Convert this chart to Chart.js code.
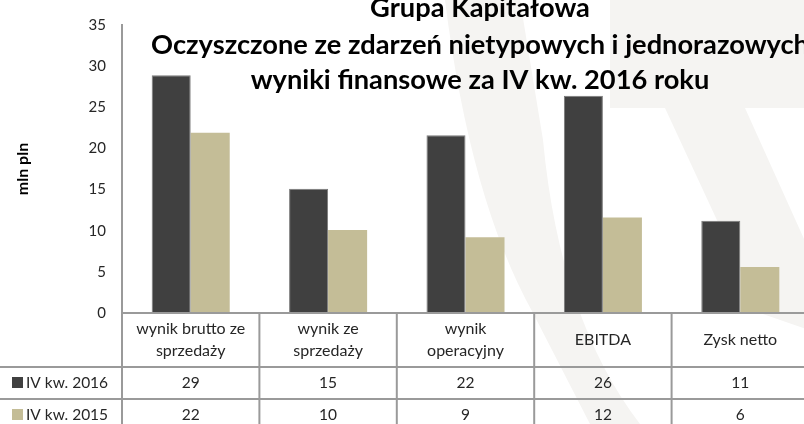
<!DOCTYPE html>
<html><head><meta charset="utf-8">
<script src="https://cdn.jsdelivr.net/npm/chart.js@4/dist/chart.umd.min.js"></script>
<style>
html,body{margin:0;padding:0;overflow:hidden;background:#fff;width:804px;height:424px}
#wrap{position:relative;width:809px;height:424px}
</style></head>
<body><div id="wrap"><canvas id="c"></canvas></div>
<script>
// ---- data ----
const titleLines = ['Grupa Kapitałowa', 'Oczyszczone ze zdarzeń nietypowych i jednorazowych', 'wyniki finansowe za IV kw. 2016 roku'];
const categories = [['wynik brutto ze', 'sprzedaży'], ['wynik ze', 'sprzedaży'], ['wynik', 'operacyjny'], ['EBITDA'], ['Zysk netto']];
const seriesNames = ['IV kw. 2016', 'IV kw. 2015'];
const values2016 = [28.9, 15.1, 21.6, 26.4, 11.2];
const values2015 = [21.9, 10.1, 9.2, 11.6, 5.6];
const table2016 = ['29', '15', '22', '26', '11'];
const table2015 = ['22', '10', '9', '12', '6'];
const yTicks = [0, 5, 10, 15, 20, 25, 30, 35];
const yTitle = 'mln pln';

// ---- styles ----
const FONT = 'Lato';
const TEXT = '#262626';
const LINE = '#9a9a9a';
const DARK = '#404040';
const TAN = '#c4bd97';
const WM = '#f5f4f2';

const tablePlugin = {
  id: 'tableAndTitle',
  beforeDraw(chart) {
    const ctx = chart.ctx;
    ctx.save();
    ctx.fillStyle = WM;
    // faint watermark shapes
    ctx.beginPath();
    ctx.moveTo(445, 0);
    ctx.quadraticCurveTo(470, 200, 533, 313);
    ctx.lineTo(590, 424);
    ctx.lineTo(640, 424);
    ctx.quadraticCurveTo(560, 320, 543, 140);
    ctx.lineTo(520, 0);
    ctx.closePath();
    ctx.fill();
    ctx.fillRect(610, 0, 200, 108);
    ctx.beginPath();
    ctx.moveTo(665, 108);
    ctx.lineTo(745, 108);
    ctx.lineTo(809, 250);
    ctx.lineTo(809, 330);
    ctx.lineTo(760, 313);
    ctx.closePath();
    ctx.fill();
    ctx.restore();
  },
  afterDraw(chart) {
    const ctx = chart.ctx;
    const area = chart.chartArea;
    const xs = chart.scales.x;
    const n = categories.length;
    const colW = (area.right - area.left) / n;
    const yTop = area.bottom;
    const y1 = yTop + 54;
    const y2 = y1 + 32;
    const y3 = y2 + 32;
    ctx.save();
    ctx.strokeStyle = LINE;
    ctx.lineWidth = 2;
    const ln = (a, b, c, d) => { ctx.beginPath(); ctx.moveTo(a, b); ctx.lineTo(c, d); ctx.stroke(); };
    ln(area.left, yTop, area.right, yTop);
    ln(0, y1, area.right, y1);
    ln(0, y2, area.right, y2);
    ln(0, y3, area.right, y3);
    for (let i = 0; i <= n; i++) {
      const bx = area.left + i * colW;
      ln(bx, yTop, bx, y3);
    }
    ctx.fillStyle = TEXT;
    ctx.textAlign = 'center';
    ctx.textBaseline = 'middle';
    ctx.font = '16px ' + FONT;
    categories.forEach((lab, i) => {
      const cx = xs.getPixelForValue(i);
      const lines = Array.isArray(lab) ? lab : [lab];
      const lh = 22;
      const start = (yTop + y1) / 2 - (lines.length - 1) * lh / 2;
      lines.forEach((l, j) => ctx.fillText(l, cx, start + j * lh));
    });
    ctx.font = '15.5px ' + FONT;
    const rows = [
      { name: seriesNames[0], color: DARK, vals: table2016, y: (y1 + y2) / 2 },
      { name: seriesNames[1], color: TAN, vals: table2015, y: (y2 + y3) / 2 }
    ];
    rows.forEach(r => {
      ctx.fillStyle = r.color;
      ctx.fillRect(12, r.y - 6, 11, 11);
      ctx.fillStyle = TEXT;
      ctx.textAlign = 'left';
      ctx.fillText(r.name, 26, r.y);
      ctx.textAlign = 'center';
      r.vals.forEach((v, i) => ctx.fillText(v, xs.getPixelForValue(i), r.y));
    });
    // title
    ctx.fillStyle = '#000';
    ctx.textAlign = 'center';
    ctx.textBaseline = 'alphabetic';
    ctx.font = 'bold 20px ' + FONT;
    const w = ctx.measureText(titleLines[1]).width;
    const size = 20 * 658 / w;
    ctx.font = 'bold ' + size.toFixed(2) + 'px ' + FONT;
    const baselines = [17, 54, 89];
    titleLines.forEach((t, i) => ctx.fillText(t, 480, baselines[i]));
    ctx.restore();
  }
};

new Chart(document.getElementById('c'), {
  type: 'bar',
  data: {
    labels: categories,
    datasets: [
      { label: seriesNames[0], data: values2016, backgroundColor: DARK, borderColor: '#7a7a7a', borderWidth: 1, categoryPercentage: 0.568, barPercentage: 1 },
      { label: seriesNames[1], data: values2015, backgroundColor: TAN, borderWidth: 0, categoryPercentage: 0.568, barPercentage: 1 }
    ]
  },
  options: {
    responsive: true,
    maintainAspectRatio: false,
    animation: false,
    layout: { padding: { top: 21.5, left: 0, right: 0, bottom: 0 } },
    plugins: { legend: { display: false }, tooltip: { enabled: false }, title: { display: false } },
    scales: {
      x: {
        grid: { display: false },
        border: { display: false },
        ticks: { display: false },
        afterFit: s => { s.height = 111; }
      },
      y: {
        min: yTicks[0],
        max: yTicks[yTicks.length - 1],
        afterBuildTicks: s => { s.ticks = yTicks.map(v => ({ value: v })); },
        grid: { display: false, drawTicks: false },
        border: { display: true, color: LINE, width: 2 },
        ticks: { padding: 16, color: TEXT, font: { family: FONT, size: 15 } },
        title: { display: true, text: yTitle, color: '#000', font: { family: FONT, size: 16, weight: 'bold' }, padding: { top: 13, bottom: 0 } },
        afterFit: s => { s.width = 122; }
      }
    }
  },
  plugins: [tablePlugin]
});
</script>
</body></html>
